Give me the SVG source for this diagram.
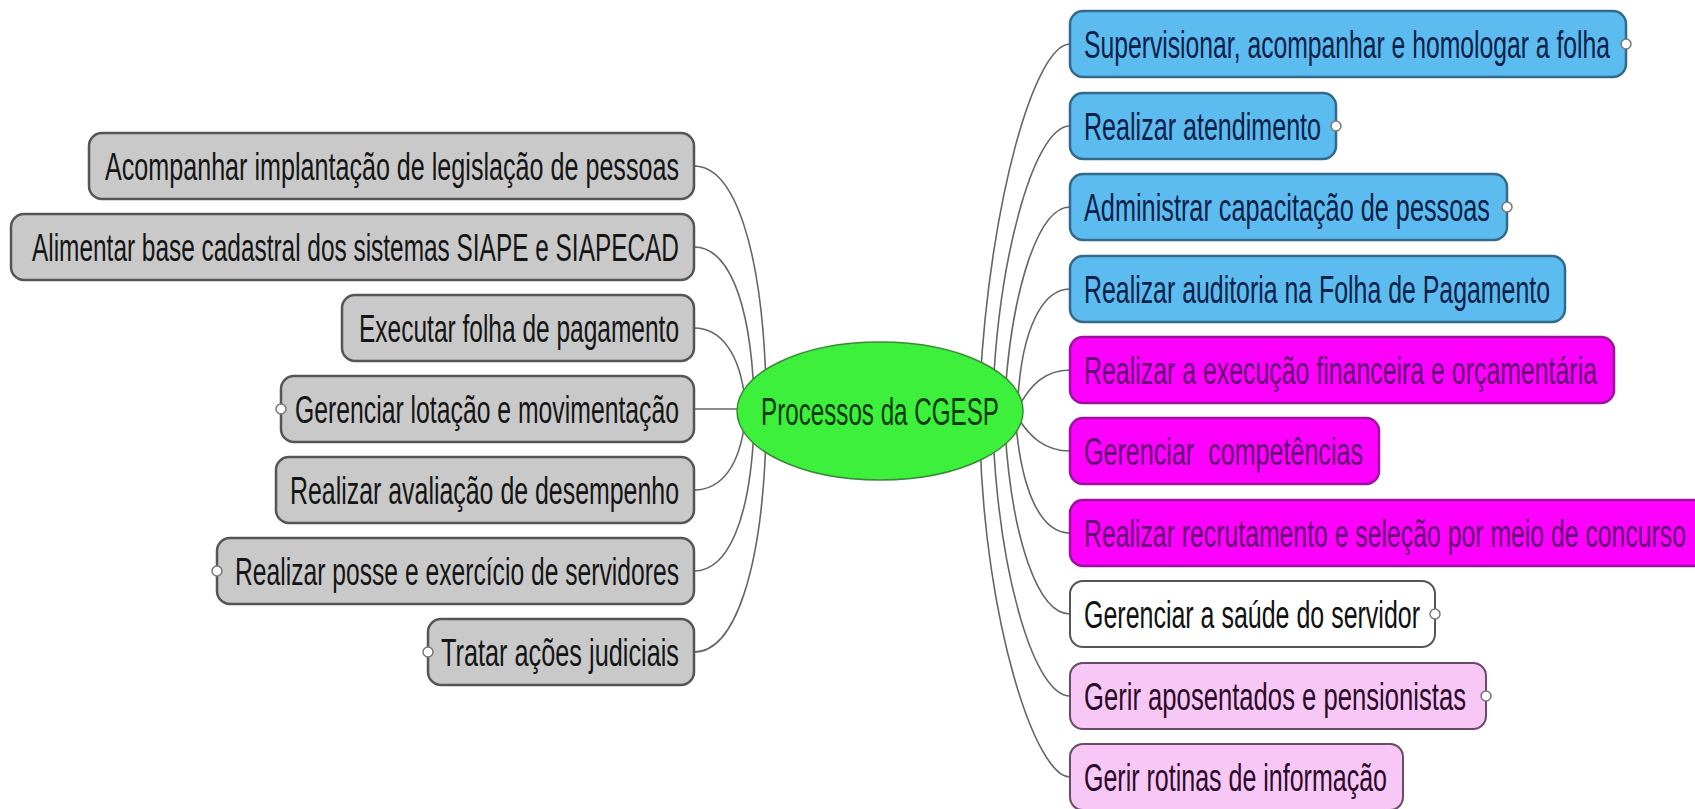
<svg xmlns="http://www.w3.org/2000/svg" width="1695" height="809" viewBox="0 0 1695 809">
<style>
text{font-family:"Liberation Sans",Arial,sans-serif;font-size:38px}
.L text{text-anchor:end}
.g rect{fill:#c9c9c9;stroke:#555;stroke-width:2.5}
.b rect{fill:#5cbcef;stroke:#32698c;stroke-width:2.5}
.m rect{fill:#ff00ff;stroke:#a010a0;stroke-width:2.5}
.w rect{fill:#ffffff;stroke:#555;stroke-width:2}
.p rect{fill:#f7c8f5;stroke:#6a4a68;stroke-width:2}
.g text{fill:#151515}
.b text{fill:#0b2148}
.m text{fill:#620a72}
.w text{fill:#111}
.p text{fill:#2c0a2a}
.dot{fill:#fff;stroke:#777;stroke-width:1.5}
#connectors path{fill:none;stroke:#666;stroke-width:1.6}
</style>
<rect width="1695" height="809" fill="#fff"/>
<g id="connectors">
<path d="M694 166 C735 166 762 250 766 385"/>
<path d="M694 247 C728 247 750 300 754 395"/>
<path d="M694 328 C722 328 740 355 745 400"/>
<path d="M694 409 L760 409"/>
<path d="M694 490 C722 490 740 465 745 420"/>
<path d="M694 571 C728 571 750 520 754 428"/>
<path d="M694 652 C735 652 762 570 766 437"/>
<path d="M1070 44 C1035 44 990 200 980 385"/>
<path d="M1070 126 C1035 126 1000 250 993 390"/>
<path d="M1070 207 C1038 207 1012 290 1005 395"/>
<path d="M1070 289 C1042 289 1022 330 1018 398"/>
<path d="M1070 370 C1045 370 1030 385 1018 408"/>
<path d="M1070 451 C1045 451 1030 437 1018 418"/>
<path d="M1070 533 C1040 533 1022 490 1016 425"/>
<path d="M1070 614 C1038 614 1012 540 1005 430"/>
<path d="M1070 696 C1035 696 1000 580 993 435"/>
<path d="M1070 777 C1035 777 985 620 980 440"/>
</g>
<g id="center">
<ellipse cx="880" cy="411" rx="143" ry="69" fill="#3cf03c" stroke="#3a8a3a" stroke-width="1.5"/>
<text x="880" y="425" text-anchor="middle" textLength="238" lengthAdjust="spacingAndGlyphs" fill="#0d3a0d" style="font-size:38px">Processos da CGESP</text>
</g>
<g id="l1" class="L g"><rect x="89" y="133" width="605" height="66" rx="13"/><text x="679" y="180" textLength="574" lengthAdjust="spacingAndGlyphs">Acompanhar implantação de legislação de pessoas</text></g>
<g id="l2" class="L g"><rect x="11" y="214" width="683" height="66" rx="13"/><text x="679" y="261" textLength="647" lengthAdjust="spacingAndGlyphs">Alimentar base cadastral dos sistemas SIAPE e SIAPECAD</text></g>
<g id="l3" class="L g"><rect x="342" y="295" width="352" height="66" rx="13"/><text x="679" y="342" textLength="320" lengthAdjust="spacingAndGlyphs">Executar folha de pagamento</text></g>
<g id="l4" class="L g"><rect x="281" y="376" width="413" height="66" rx="13"/><circle class="dot" cx="281" cy="409" r="5"/><text x="679" y="423" textLength="384" lengthAdjust="spacingAndGlyphs">Gerenciar lotação e movimentação</text></g>
<g id="l5" class="L g"><rect x="276" y="457" width="418" height="66" rx="13"/><text x="679" y="504" textLength="389" lengthAdjust="spacingAndGlyphs">Realizar avaliação de desempenho</text></g>
<g id="l6" class="L g"><rect x="217" y="538" width="477" height="66" rx="13"/><circle class="dot" cx="217" cy="571" r="5"/><text x="679" y="585" textLength="444" lengthAdjust="spacingAndGlyphs">Realizar posse e exercício de servidores</text></g>
<g id="l7" class="L g"><rect x="428" y="619" width="266" height="66" rx="13"/><circle class="dot" cx="428" cy="652" r="5"/><text x="679" y="666" textLength="238" lengthAdjust="spacingAndGlyphs">Tratar ações judiciais</text></g>
<g id="r1" class="b"><rect x="1070" y="11" width="556" height="66" rx="13"/><circle class="dot" cx="1626" cy="44" r="5"/><text x="1084" y="58" textLength="526" lengthAdjust="spacingAndGlyphs">Supervisionar, acompanhar e homologar a folha</text></g>
<g id="r2" class="b"><rect x="1070" y="93" width="266" height="66" rx="13"/><circle class="dot" cx="1336" cy="126" r="5"/><text x="1084" y="140" textLength="237" lengthAdjust="spacingAndGlyphs">Realizar atendimento</text></g>
<g id="r3" class="b"><rect x="1070" y="174" width="437" height="66" rx="13"/><circle class="dot" cx="1507" cy="207" r="5"/><text x="1084" y="221" textLength="406" lengthAdjust="spacingAndGlyphs">Administrar capacitação de pessoas</text></g>
<g id="r4" class="b"><rect x="1070" y="256" width="495" height="66" rx="13"/><text x="1084" y="303" textLength="466" lengthAdjust="spacingAndGlyphs">Realizar auditoria na Folha de Pagamento</text></g>
<g id="r5" class="m"><rect x="1070" y="337" width="544" height="66" rx="13"/><text x="1084" y="384" textLength="513" lengthAdjust="spacingAndGlyphs">Realizar a execução financeira e orçamentária</text></g>
<g id="r6" class="m"><rect x="1070" y="418" width="309" height="66" rx="13"/><text x="1084" y="465" textLength="279" lengthAdjust="spacingAndGlyphs" xml:space="preserve">Gerenciar  competências</text></g>
<g id="r7" class="m"><rect x="1070" y="500" width="640" height="66" rx="13"/><text x="1084" y="547" textLength="602" lengthAdjust="spacingAndGlyphs">Realizar recrutamento e seleção por meio de concurso</text></g>
<g id="r8" class="w"><rect x="1070" y="581" width="365" height="66" rx="13"/><circle class="dot" cx="1435" cy="614" r="5"/><text x="1084" y="628" textLength="336" lengthAdjust="spacingAndGlyphs">Gerenciar a saúde do servidor</text></g>
<g id="r9" class="p"><rect x="1070" y="663" width="416" height="66" rx="13"/><circle class="dot" cx="1486" cy="696" r="5"/><text x="1084" y="710" textLength="382" lengthAdjust="spacingAndGlyphs">Gerir aposentados e pensionistas</text></g>
<g id="r10" class="p"><rect x="1070" y="744" width="333" height="66" rx="13"/><text x="1084" y="791" textLength="303" lengthAdjust="spacingAndGlyphs">Gerir rotinas de informação</text></g>
</svg>
